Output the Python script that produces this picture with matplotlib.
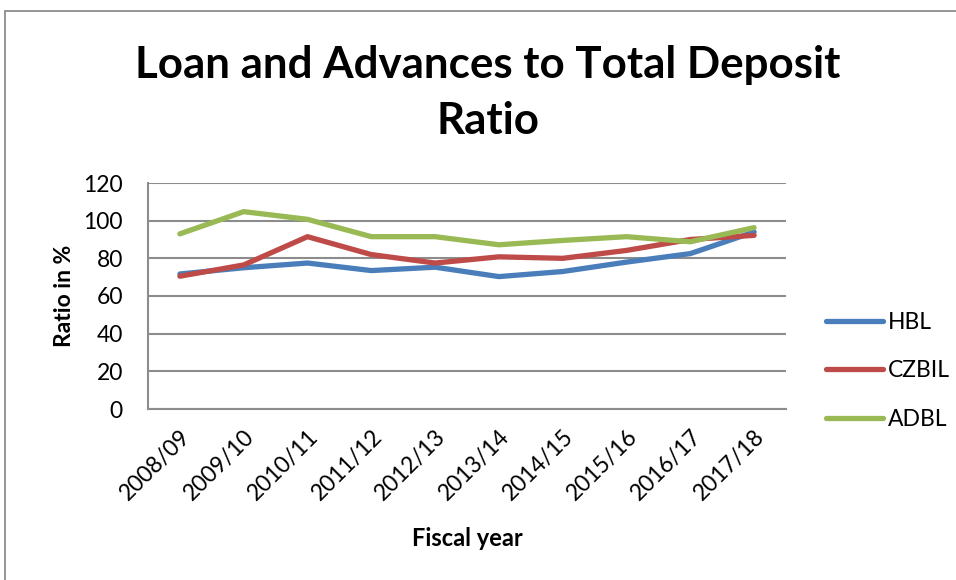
import matplotlib.pyplot as plt
from matplotlib.patches import Rectangle

# Datos del ratio prestamos / depositos (%)
years = ["2008/09", "2009/10", "2010/11", "2011/12", "2012/13",
         "2013/14", "2014/15", "2015/16", "2016/17", "2017/18"]
hbl = [71.7, 75.0, 77.5, 73.5, 75.3, 70.3, 73.0, 78.0, 82.5, 94.0]
czbil = [70.5, 76.5, 91.5, 82.0, 77.5, 80.8, 80.0, 84.2, 90.0, 92.2]
adbl = [93.0, 104.8, 100.7, 91.5, 91.5, 87.2, 89.5, 91.5, 88.8, 96.3]

plt.rcParams["font.family"] = ["Lato", "DejaVu Sans"]

fig = plt.figure(figsize=(9.56, 5.8), dpi=100)
ax = fig.add_axes([148 / 956, 1 - 409 / 580, 638 / 956, 226 / 580])

# marco del grafico
fig.patches.append(Rectangle((5 / 956, -0.1), 1.2, 1.1 - 11 / 580, transform=fig.transFigure,
                             fill=False, edgecolor="#8c8c8c", linewidth=1.3))

x = range(len(years))
ax.plot(x, hbl, color="#4A7EBB", lw=3.8, label="HBL", solid_capstyle="round")
ax.plot(x, czbil, color="#BE4B48", lw=3.8, label="CZBIL", solid_capstyle="round")
ax.plot(x, adbl, color="#98B954", lw=3.8, label="ADBL", solid_capstyle="round")

ax.set_xlim(-0.5, len(years) - 0.5)
ax.set_ylim(0, 120)
ax.set_yticks(range(0, 121, 20))
ax.yaxis.grid(True, color="#8c8c8c", lw=1.5)
ax.set_axisbelow(True)
ax.set_xticks(list(x))
ax.set_xticklabels(years, rotation=45, ha="right", rotation_mode="anchor")
ax.tick_params(axis="y", length=0, labelsize=16.5, pad=18)
ax.tick_params(axis="x", length=0, labelsize=16.5, pad=12)

for s in ["top", "right"]:
    ax.spines[s].set_visible(False)
for s in ["left", "bottom"]:
    ax.spines[s].set_color("#8c8c8c")
    ax.spines[s].set_linewidth(1.5)

ax.set_ylabel("Ratio in %", fontsize=16.5, fontweight="bold", labelpad=6)
fig.text(467 / 956, 1 - 538 / 580, "Fiscal year", fontsize=17, fontweight="bold",
         ha="center", va="center")

t1 = fig.text(488 / 956, 1 - 65 / 580, "Loan and Advances to Total Deposit", fontsize=34,
              fontweight="bold", ha="center", va="center")
t2 = fig.text(488 / 956, 1 - 121 / 580, "Ratio", fontsize=34, fontweight="bold",
              ha="center", va="center")

# ajustar el titulo a ~707 px de ancho
r = fig.canvas.get_renderer()
w = t1.get_window_extent(r).width
fs = 34 * 707 / w
t1.set_fontsize(fs)
t2.set_fontsize(fs)

ax.legend(loc="center left", bbox_to_anchor=(1.03, 0.17), frameon=False, fontsize=16.5,
          handlelength=2.5, handletextpad=0.2, labelspacing=1.2)

fig.savefig("out.png", dpi=100)
